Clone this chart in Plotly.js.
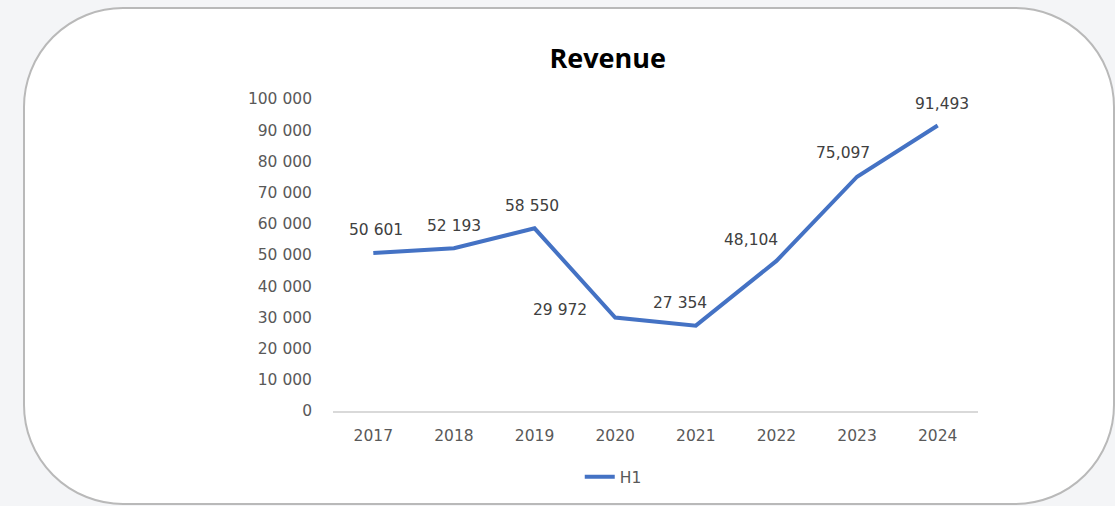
<!DOCTYPE html>
<html>
<head>
<meta charset="utf-8">
<script src="https://cdn.plot.ly/plotly-3.0.1.min.js"></script>
<style>
  html, body { margin: 0; padding: 0; background: #f4f5f7; width: 1115px; height: 506px; overflow: hidden; }
  #frame { position: absolute; left: 23px; top: 7px; width: 1088px; height: 494px; background: #ffffff;
           border: 2px solid #b9b9b9; border-radius: 100px; }
  #chart { position: absolute; left: 0; top: 0; width: 1115px; height: 506px; }
</style>
</head>
<body>
<div id="frame"></div>
<div id="chart"></div>
<script>
const years = [2017, 2018, 2019, 2020, 2021, 2022, 2023, 2024];
const revenue = [50601, 52193, 58550, 29972, 27354, 48104, 75097, 91493];
const labels = ['50 601', '52 193', '58 550', '29 972', '27 354', '48,104', '75,097', '91,493'];
const tickVals = [0, 10000, 20000, 30000, 40000, 50000, 60000, 70000, 80000, 90000, 100000];
const tickText = ['0', '10 000', '20 000', '30 000', '40 000', '50 000', '60 000', '70 000', '80 000', '90 000', '100 000'];

// label offsets (pixels) relative to each point
const offX = [3, 0, -3, -55, -16, -25, -14, 4];
const offY = [23, 22, 22, 7, 23, 21, 24, 22];

const font = 'DejaVu Sans, sans-serif';

const annotations = years.map((y, i) => ({
  x: y, y: revenue[i], xref: 'x', yref: 'y',
  text: labels[i], showarrow: false,
  xshift: offX[i], yshift: offY[i],
  font: { family: font, size: 15.5, color: '#404040' }
}));

const trace = {
  x: years, y: revenue, type: 'scatter', mode: 'lines', name: 'H1',
  line: { color: '#4472C4', width: 4 }
};

const layout = {
  width: 1115, height: 506,
  paper_bgcolor: 'rgba(0,0,0,0)', plot_bgcolor: 'rgba(0,0,0,0)',
  margin: { l: 333, r: 137, t: 99, b: 95 },
  title: { text: '<b>Revenue</b>', x: 0.545, xanchor: 'center', y: 0.885, yanchor: 'middle',
           font: { family: 'Open Sans, sans-serif', size: 27, color: '#000000' } },
  xaxis: { type: 'linear', range: [2016.5, 2024.5], tickmode: 'array', tickvals: years, ticktext: years.map(String),
           showgrid: false, showline: true, linecolor: '#d9d9d9', linewidth: 1.5, automargin: false,
           ticks: '', tickfont: { family: font, size: 15.5, color: '#595959' }, ticklabelstandoff: 10, zeroline: false },
  yaxis: { range: [0, 100000], tickmode: 'array', tickvals: tickVals, ticktext: tickText, showgrid: false, showline: false, zeroline: false,
           automargin: false, ticks: '', ticklabelstandoff: 20, tickfont: { family: font, size: 15.5, color: '#595959' } },
  showlegend: true,
  legend: { orientation: 'h', x: 0.55, xref: 'container', xanchor: 'center', y: 0.057, yref: 'container', yanchor: 'middle',
            font: { family: font, size: 15.5, color: '#595959' } },
  annotations: annotations
};

Plotly.newPlot('chart', [trace], layout, { displayModeBar: false, staticPlot: true });
</script>
</body>
</html>
